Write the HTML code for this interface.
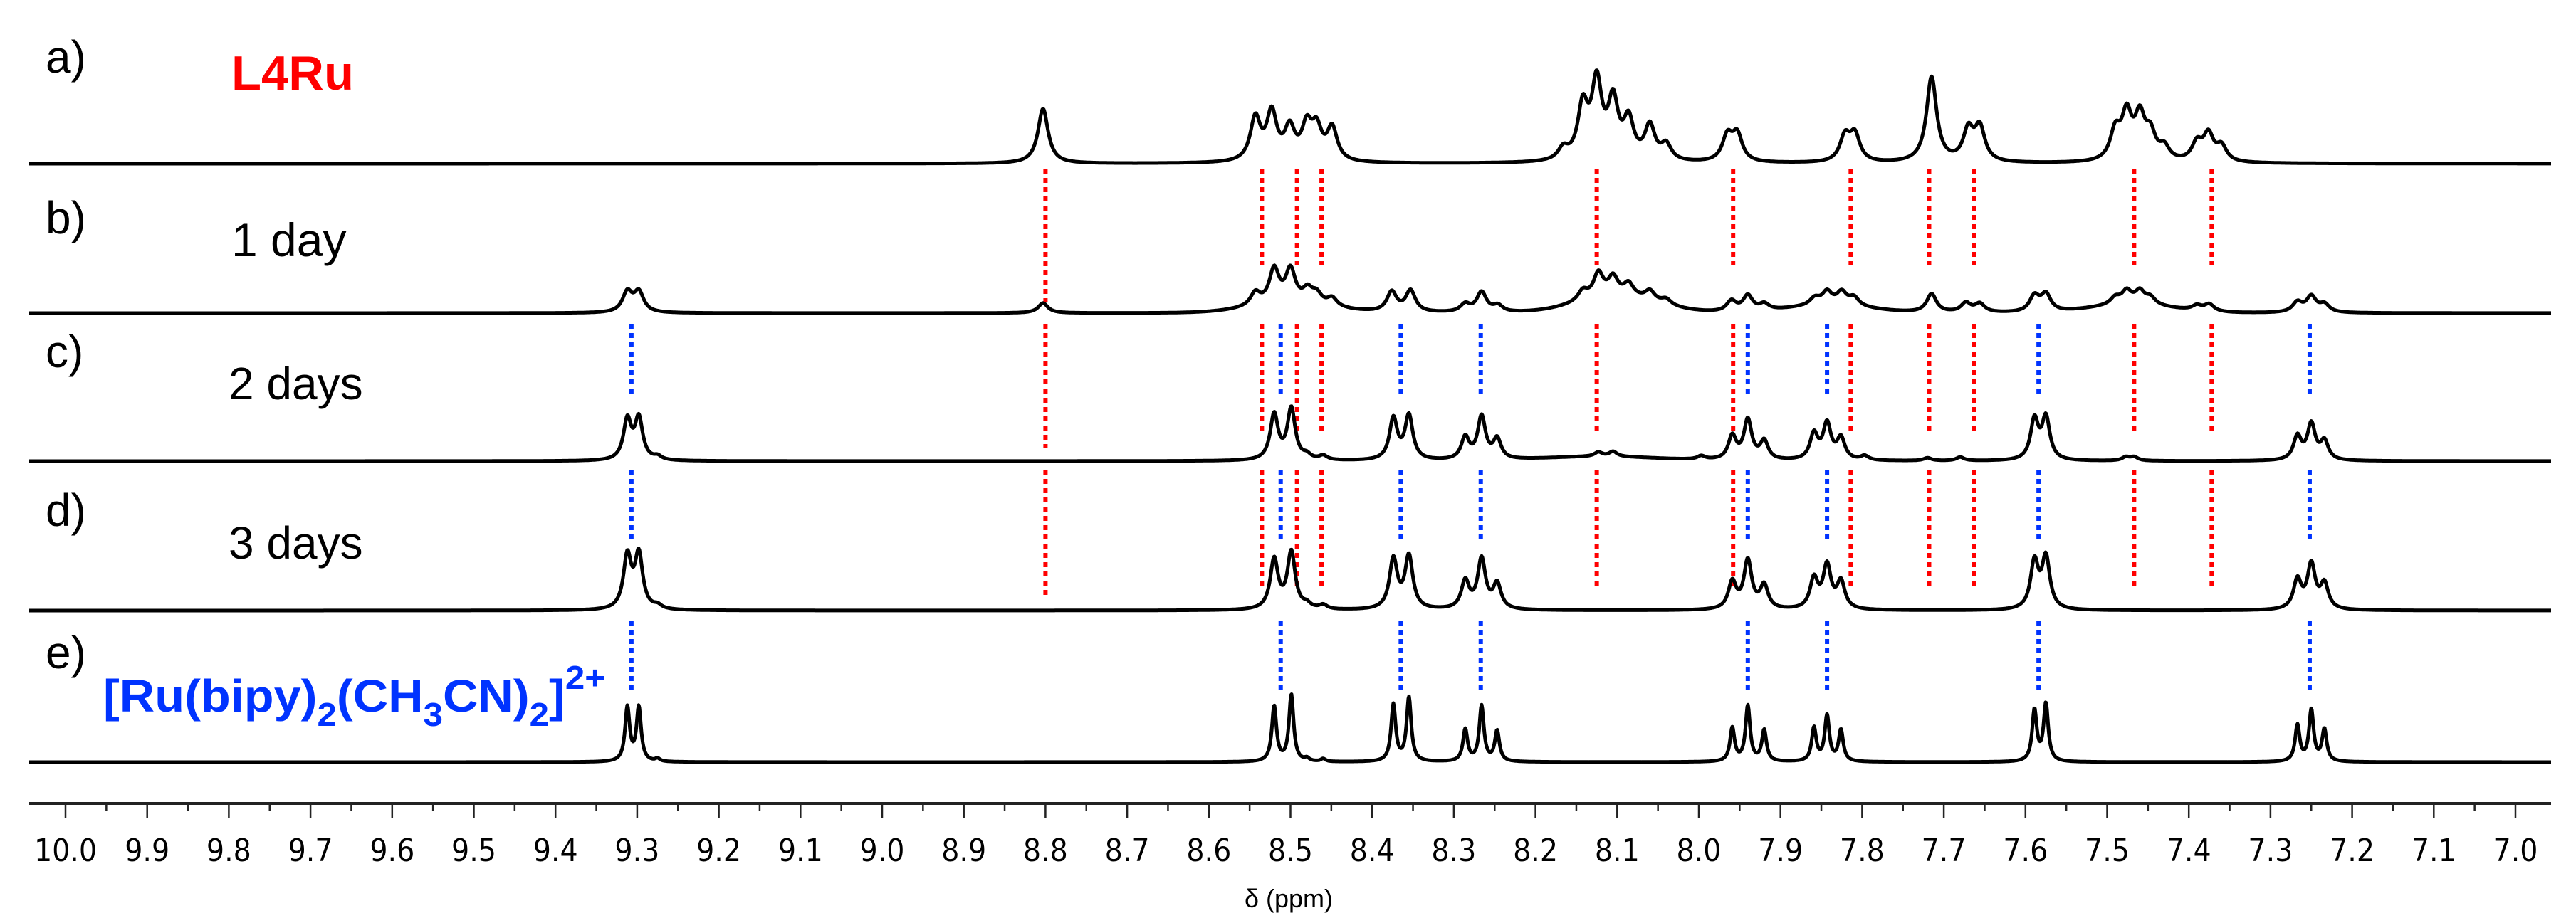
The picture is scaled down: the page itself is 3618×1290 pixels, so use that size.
<!DOCTYPE html>
<html><head><meta charset="utf-8"><style>
html,body{margin:0;padding:0;background:#fff;}
svg{display:block;}
</style></head><body>
<svg id="chart" width="3618" height="1290" viewBox="0 0 3618 1290" xmlns="http://www.w3.org/2000/svg">
<rect width="3618" height="1290" fill="#fff"/>
<g id="markers"></g>
<g id="spectra"></g>
<g id="axis"></g>
<g font-family="'Liberation Sans', Arial, sans-serif" fill="#000">
<text x="64" y="102" font-size="64">a)</text>
<text x="64" y="328" font-size="64">b)</text>
<text x="64" y="516" font-size="64">c)</text>
<text x="64" y="739" font-size="64">d)</text>
<text x="64" y="939" font-size="64">e)</text>
<text x="325" y="126" font-size="68" font-weight="bold" fill="#ff0000" textLength="172" lengthAdjust="spacingAndGlyphs">L4Ru</text>
<text x="325" y="360" font-size="66">1 day</text>
<text x="321" y="561" font-size="64">2 days</text>
<text x="321" y="785" font-size="64">3 days</text>
<text x="145" y="1000" font-size="64" font-weight="bold" fill="#0033ff" textLength="705" lengthAdjust="spacingAndGlyphs">[Ru(bipy)<tspan font-size="46" dy="20">2</tspan><tspan dy="-20">(CH</tspan><tspan font-size="46" dy="20">3</tspan><tspan dy="-20">CN)</tspan><tspan font-size="46" dy="20">2</tspan><tspan dy="-20">]</tspan><tspan font-size="46" dy="-32">2+</tspan></text>
<text x="1810" y="1275" font-size="36" text-anchor="middle">δ (ppm)</text>
</g>
</svg>
<script>
// axis data
const tickLabels = ["10.0","9.9","9.8","9.7","9.6","9.5","9.4","9.3","9.2","9.1","9.0","8.9","8.8","8.7","8.6","8.5","8.4","8.3","8.2","8.1","8.0","7.9","7.8","7.7","7.6","7.5","7.4","7.3","7.2","7.1","7.0"];
// spectrum a: L4Ru
const aPpm = [8.803,8.543,8.523,8.501,8.48,8.468,8.449,8.166,8.142,8.125,8.105,8.086,8.06,8.04,7.965,7.953,7.821,7.809,7.715,7.67,7.656,7.49,7.476,7.46,7.447,7.43,7.39,7.376,7.36];
const aInt = [77,60,66,44,46,42,46,16,74,106,80,54,48,22,35,37,35,37,120,43,47,40,62,58,35,18,25,37,21];
// spectrum b: 1 day
const bPpm = [9.312,9.298,8.803,8.543,8.52,8.50,8.479,8.468,8.449,8.376,8.353,8.286,8.266,8.246,8.142,8.123,8.105,8.086,8.06,8.04,7.96,7.94,7.92,7.858,7.843,7.825,7.81,7.715,7.673,7.656,7.589,7.575,7.49,7.476,7.46,7.447,7.39,7.375,7.267,7.25,7.234];
const bInt = [28,28,14,18,48,46,18,14,12,28,30,11,28,9,14,34,26,18,14,8,15,22,9,10,18,18,12,26,13,12,22,24,10,18,18,10,7,10,14,22,11];
const bBroadPpm = [8.10,7.47,7.84,8.50];
const bBroadInt = [22,11,10,12];
// spectrum c: 2 days
const cPpm = [9.312,9.298,9.275,8.52,8.499,8.48,8.46,8.374,8.355,8.286,8.266,8.247,8.123,8.105,7.997,7.959,7.94,7.92,7.859,7.843,7.826,7.797,7.72,7.68,7.589,7.575,7.477,7.467,7.267,7.25,7.234];
const cInt = [56,58,5,64,72,6,6,58,62,31,60,28,6,7,5,33,56,26,36,50,30,6,4,5,56,59,5,5,33,50,26];
const cBroadPpm = [8.12];
const cBroadInt = [6];
// spectrum d: 3 days
const dPpm = [9.312,9.298,9.275,8.52,8.499,8.48,8.46,8.374,8.355,8.286,8.266,8.247,7.959,7.94,7.92,7.859,7.843,7.826,7.589,7.575,7.267,7.25,7.234];
const dInt = [74,76,5,70,80,6,6,70,74,39,70,35,38,68,33,42,60,38,66,72,41,62,35];
// spectrum e: [Ru(bipy)2(CH3CN)2]2+
const ePpm = [9.312,9.298,9.275,8.52,8.499,8.48,8.46,8.374,8.355,8.286,8.266,8.247,7.959,7.94,7.92,7.859,7.843,7.826,7.589,7.575,7.267,7.25,7.234];
const eInt = [76,76,4,78,94,4,4,80,90,45,78,43,47,78,44,47,64,44,72,81,51,72,45];
// marker line positions
const redPpm = [8.80,8.535,8.492,8.462,8.125,7.958,7.814,7.718,7.663,7.467,7.372];
const bluePpm = [9.307,8.512,8.365,8.267,7.94,7.843,7.584,7.252];

const NS = "http://www.w3.org/2000/svg";
const X0 = 92, PX_PER_PPM = 1147;
function xScale(ppm){ return X0 + (10 - ppm) * PX_PER_PPM; }
function pxToPpm(x){ return 10 - (x - X0) / PX_PER_PPM; }
const XL = 41, XR = 3583;
const baselines = [230, 440, 648, 858, 1071];

function lor(x, c, w){ const d = (x - c) / w; return 1 / (1 + d*d); }
function buildPath(ppms, ints, w, base, broadP, broadI, broadW){
  let d = "";
  for (let x = XL; x <= XR; x += 1){
    const p = pxToPpm(x);
    let y = 0;
    for (let i = 0; i < ppms.length; i++) y += ints[i] * lor(p, ppms[i], w);
    if (broadP) for (let i = 0; i < broadP.length; i++) y += broadI[i] * Math.exp(-Math.pow((p - broadP[i]) / broadW, 2));
    d += (x === XL ? "M" : "L") + x + "," + (base - y).toFixed(1);
  }
  return d;
}
const specG = document.getElementById("spectra");
const specs = [
  ["spectrum-a-l4ru", aPpm, aInt, 0.0075, null, null, 0],
  ["spectrum-b-1-day", bPpm, bInt, 0.0072, bBroadPpm, bBroadInt, 0.07],
  ["spectrum-c-2-days", cPpm, cInt, 0.0058, cBroadPpm, cBroadInt, 0.1],
  ["spectrum-d-3-days", dPpm, dInt, 0.0058, null, null, 0],
  ["spectrum-e-ru-complex", ePpm, eInt, 0.0034, null, null, 0]
];
specs.forEach((s, i) => {
  const path = document.createElementNS(NS, "path");
  path.setAttribute("d", buildPath(s[1], s[2], s[3], baselines[i], s[4], s[5], s[6]));
  path.setAttribute("fill", "none");
  path.setAttribute("stroke", "#000");
  path.setAttribute("stroke-width", "5");
  path.setAttribute("stroke-linejoin", "round");
  
  
  specG.appendChild(path);
});

// marker lines
const mG = document.getElementById("markers");
function marker(ppm, color, y1, y2){
  const l = document.createElementNS(NS, "line");
  const x = xScale(ppm);
  l.setAttribute("x1", x); l.setAttribute("x2", x);
  l.setAttribute("y1", y1); l.setAttribute("y2", y2);
  l.setAttribute("stroke", color);
  l.setAttribute("stroke-width", "6");
  l.setAttribute("stroke-dasharray", "7 6");
  
  
  mG.appendChild(l);
}
// a -> b
redPpm.forEach(p => marker(p, "#ff0000", 237, p === 8.80 ? 425 : 372));
// b -> c and c -> d
[[1, 455, 610, 555], [2, 660, 825, 760]].forEach(g => {
  const next = baselines[g[0] + 1];
  redPpm.forEach(p => marker(p, "#ff0000", g[1], p === 8.80 ? next - 18 : g[2]));
  bluePpm.forEach(p => marker(p, "#0033ff", g[1], g[3]));
});
// d -> e
bluePpm.forEach(p => marker(p, "#0033ff", 872, 975));

// axis
const aG = document.getElementById("axis");
const axLine = document.createElementNS(NS, "line");
axLine.setAttribute("x1", XL); axLine.setAttribute("x2", XR);
axLine.setAttribute("y1", 1129); axLine.setAttribute("y2", 1129);
axLine.setAttribute("stroke", "#222"); axLine.setAttribute("stroke-width", "4");


aG.appendChild(axLine);
tickLabels.forEach((lab, i) => {
  const v = parseFloat(lab);
  const x = xScale(v);
  const t = document.createElementNS(NS, "line");
  t.setAttribute("x1", x); t.setAttribute("x2", x);
  t.setAttribute("y1", 1129); t.setAttribute("y2", 1149);
  t.setAttribute("stroke", "#222"); t.setAttribute("stroke-width", "2.5");
  
  
  aG.appendChild(t);
  if (i < tickLabels.length - 1){
    const xm = xScale(v - 0.05);
    const m = document.createElementNS(NS, "line");
    m.setAttribute("x1", xm); m.setAttribute("x2", xm);
    m.setAttribute("y1", 1129); m.setAttribute("y2", 1140);
    m.setAttribute("stroke", "#222"); m.setAttribute("stroke-width", "2.5");
    
    
    aG.appendChild(m);
  }
  const tx = document.createElementNS(NS, "text");
  tx.setAttribute("x", x); tx.setAttribute("y", 1210);
  tx.setAttribute("text-anchor", "middle");
  tx.setAttribute("font-family", "'DejaVu Sans Condensed','Liberation Sans',sans-serif");
  tx.setAttribute("font-size", "44");
  tx.textContent = lab;
  
  
  aG.appendChild(tx);
});
</script>
</body></html>
